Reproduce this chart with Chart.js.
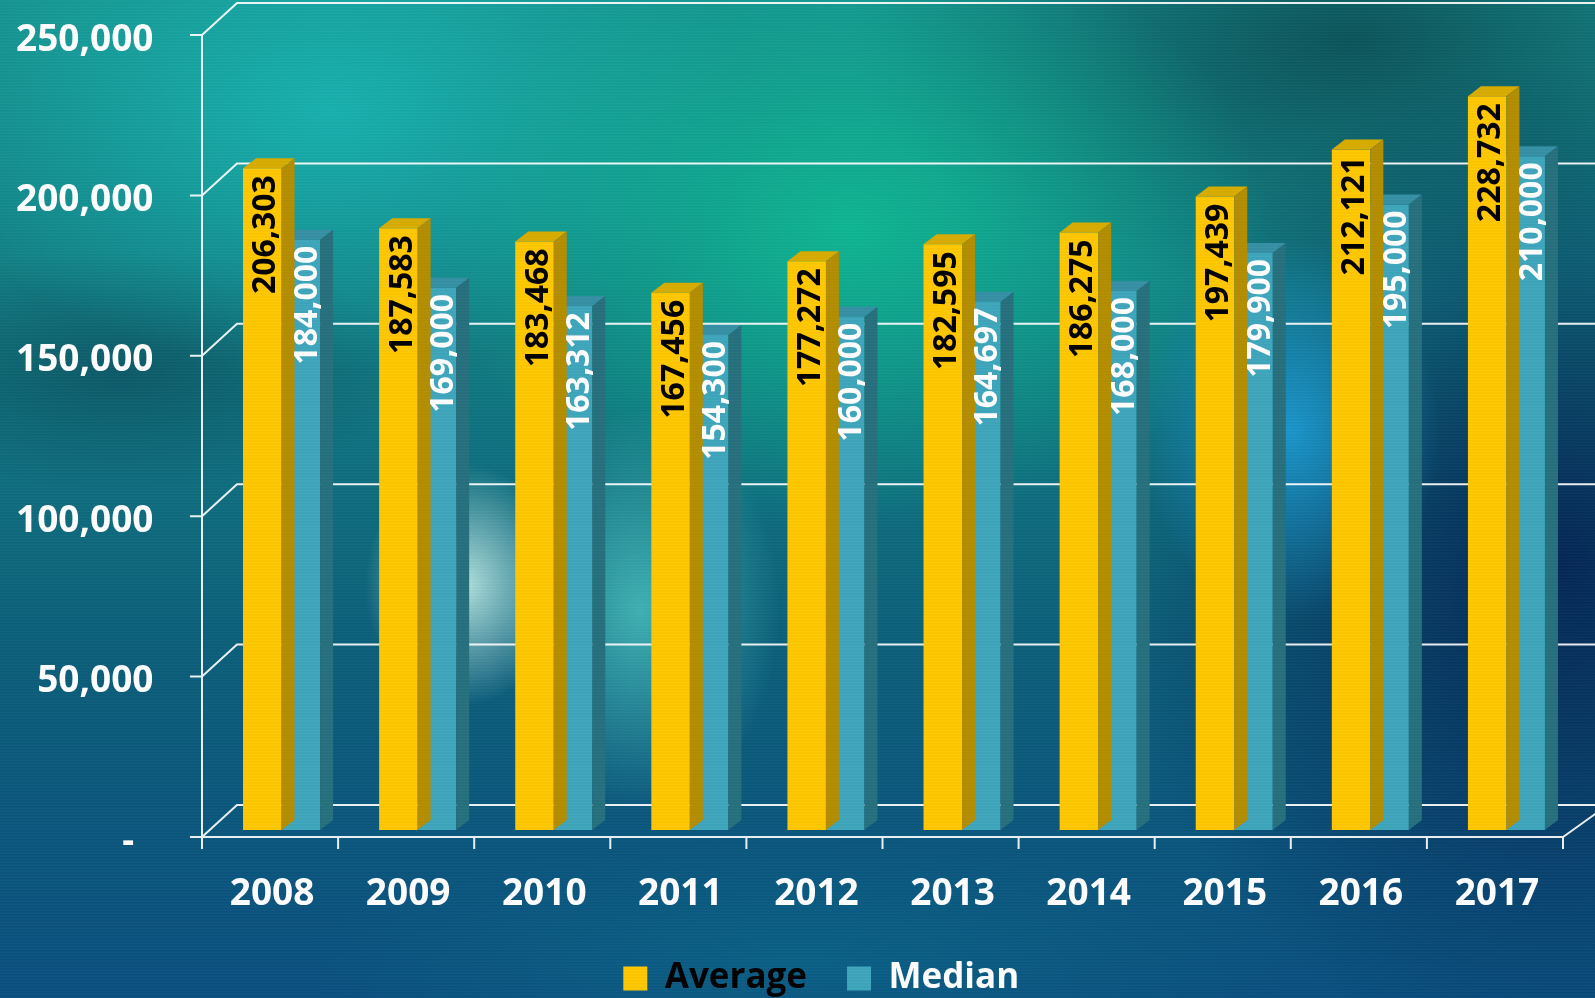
<!DOCTYPE html>
<html>
<head>
<meta charset="utf-8">
<script src="https://cdn.jsdelivr.net/npm/chart.js@4.4.1/dist/chart.umd.min.js"></script>
<style>
html, body { margin: 0; padding: 0; overflow: hidden; }
#wrap {
    width: 1595px; height: 998px; position: relative;
    background:
        radial-gradient(ellipse 100px 120px at 465px 585px, rgba(205,245,238,0.85), rgba(205,245,238,0) 100%),
        radial-gradient(ellipse 140px 200px at 640px 610px, rgba(90,220,210,0.65), rgba(90,220,210,0) 100%),
        radial-gradient(ellipse 150px 190px at 1290px 430px, rgba(30,165,225,0.8), rgba(30,165,225,0) 100%),
        radial-gradient(ellipse 420px 300px at 850px 230px, rgba(14,195,150,0.8), rgba(14,195,150,0) 100%),
        radial-gradient(ellipse 420px 260px at 330px 110px, rgba(25,190,185,0.75), rgba(25,190,185,0) 100%),
        radial-gradient(ellipse 300px 120px at 120px 370px, rgba(10,60,80,0.5), rgba(10,60,80,0) 100%),
        radial-gradient(ellipse 450px 500px at 1560px 560px, rgba(4,28,80,0.85), rgba(4,28,80,0) 100%),
        radial-gradient(ellipse 500px 260px at 1350px 40px, rgba(8,60,70,0.7), rgba(8,60,70,0) 100%),
        radial-gradient(ellipse 500px 120px at 800px 960px, rgba(12,110,140,0.5), rgba(12,110,140,0) 100%),
        linear-gradient(180deg, #16928f 0%, #117a82 35%, #0c5f7a 65%, #0a5080 100%);
}
#wrap::after {
    content: ""; position: absolute; left: 0; top: 0; right: 0; bottom: 0; pointer-events: none;
    background: repeating-linear-gradient(0deg, rgba(255,255,255,0.025) 0px, rgba(255,255,255,0.025) 1px, rgba(0,0,0,0.03) 2px, rgba(0,0,0,0) 3px);
}
canvas { position: absolute; left: 0; top: 0; }
</style>
</head>
<body>
<div id="wrap"><canvas id="priceChart" width="1595" height="998"></canvas></div>
<script>
const years = ['2008', '2009', '2010', '2011', '2012', '2013', '2014', '2015', '2016', '2017'];
const averagePrice = [206303, 187583, 183468, 167456, 177272, 182595, 186275, 197439, 212121, 228732];
const medianPrice = [184000, 169000, 163312, 154300, 160000, 164697, 168000, 179900, 195000, 210000];
const yTicks = [0, 50000, 100000, 150000, 200000, 250000];

const FONT = "'Open Sans', 'DejaVu Sans', sans-serif";

// bar depth (top / side faces)
const BAR_DX = 13, BAR_DY = 10;
// floor/wall offsets relative to the bar plane
const FRONT_DY = 7, BACK_DX = 35, BACK_DY = -18, FRONT_DX = -10;

const faceColors = [
    { front: '#FFC800', top: '#D8AC00', side: '#B48E00' },
    { front: '#3EA6BC', top: '#3590A4', side: '#26707E' }
];
// label nudges inside the bars: [dx, gap below top]
const labelNudge = [[4, 7], [7, 6]];

const fmt = v => v.toLocaleString('en-US');

// 3D-ish walls and grid, drawn behind the bars
const wallGrid = {
    id: 'wallGrid',
    beforeDatasetsDraw(chart) {
        const ctx = chart.ctx;
        const x = chart.scales.x, y = chart.scales.y;
        const frontLeft = chart.chartArea.left + FRONT_DX - 1.5;
        const backLeft = frontLeft + BACK_DX;
        const catW = x.getPixelForValue(1) - x.getPixelForValue(0);
        const frontRight = frontLeft + catW * years.length;
        ctx.save();
        ctx.strokeStyle = 'rgba(255,255,255,0.92)';
        ctx.lineWidth = 2;
        ctx.beginPath();
        yTicks.forEach(v => {
            const yb = y.getPixelForValue(v);
            ctx.moveTo(frontLeft - 12, yb + FRONT_DY);
            ctx.lineTo(frontLeft, yb + FRONT_DY);
            ctx.lineTo(backLeft, yb + BACK_DY - FRONT_DY);
            ctx.lineTo(chart.width + 10, yb + BACK_DY - FRONT_DY);
        });
        const y0 = y.getPixelForValue(0) + FRONT_DY;
        const yTop = y.getPixelForValue(yTicks[yTicks.length - 1]) + FRONT_DY;
        // front vertical axis
        ctx.moveTo(frontLeft, yTop);
        ctx.lineTo(frontLeft, y0 + 12);
        // front floor edge + right diagonal
        ctx.moveTo(frontLeft, y0);
        ctx.lineTo(frontRight, y0);
        ctx.lineTo(frontRight + BACK_DX, y0 + BACK_DY - FRONT_DY);
        // category tick marks
        for (let i = 1; i <= years.length; i++) {
            const tx = frontLeft + catW * i;
            ctx.moveTo(tx, y0);
            ctx.lineTo(tx, y0 + 12);
        }
        ctx.stroke();
        ctx.restore();
    }
};

// top and side faces of the bars, per dataset so the next series covers them
const barFaces = {
    id: 'barFaces',
    afterDatasetDraw(chart, args) {
        const ctx = chart.ctx;
        const c = faceColors[args.index];
        const meta = args.meta;
        ctx.save();
        meta.data.forEach(bar => {
            const p = bar.getProps(['x', 'y', 'base', 'width'], true);
            const l = p.x - p.width / 2, r = p.x + p.width / 2;
            ctx.fillStyle = c.top;
            ctx.beginPath();
            ctx.moveTo(l, p.y);
            ctx.lineTo(l + BAR_DX, p.y - BAR_DY);
            ctx.lineTo(r + BAR_DX, p.y - BAR_DY);
            ctx.lineTo(r, p.y);
            ctx.closePath();
            ctx.fill();
            ctx.fillStyle = c.side;
            ctx.beginPath();
            ctx.moveTo(r, p.y);
            ctx.lineTo(r + BAR_DX, p.y - BAR_DY);
            ctx.lineTo(r + BAR_DX, p.base - BAR_DY);
            ctx.lineTo(r, p.base);
            ctx.closePath();
            ctx.fill();
        });
        ctx.restore();
    }
};

// vertical value labels inside the bars
const barLabels = {
    id: 'barLabels',
    afterDatasetsDraw(chart) {
        const ctx = chart.ctx;
        ctx.save();
        ctx.font = 'bold 32px ' + FONT;
        ctx.textAlign = 'right';
        ctx.textBaseline = 'middle';
        chart.data.datasets.forEach((ds, i) => {
            ctx.fillStyle = i === 0 ? '#000000' : '#FFFFFF';
            const [dx, gap] = labelNudge[i];
            chart.getDatasetMeta(i).data.forEach((bar, j) => {
                const p = bar.getProps(['x', 'y'], true);
                ctx.save();
                ctx.translate(p.x + dx, p.y + gap);
                ctx.rotate(-Math.PI / 2);
                ctx.fillText(fmt(ds.data[j]), 0, 0);
                ctx.restore();
            });
        });
        ctx.restore();
    }
};

// nudge the legend to where the original sits
const legendShift = {
    id: 'legendShift',
    afterLayout(chart) {
        chart.legend.left += 34;
        chart.legend.right += 34;
    }
};

const chart = new Chart(document.getElementById('priceChart'), {
    type: 'bar',
    data: {
        labels: years,
        datasets: [
            { label: 'Average', data: averagePrice, backgroundColor: faceColors[0].front },
            { label: 'Median', data: medianPrice, backgroundColor: faceColors[1].front }
        ]
    },
    options: {
        responsive: false,
        animation: false,
        layout: { padding: { top: 28, right: 20.5, left: 0, bottom: -8 } },
        datasets: { bar: { categoryPercentage: 0.566, barPercentage: 1.0 } },
        scales: {
            x: {
                grid: { display: false, drawTicks: false },
                border: { display: false },
                afterFit(scale) {
                    scale.height = 91;
                    scale.paddingLeft = 0;
                    scale.paddingRight = 0;
                },
                ticks: {
                    color: '#FFFFFF',
                    font: { family: FONT, weight: 'bold', size: 37 },
                    padding: 42,
                    labelOffset: -9.5,
                    autoSkip: false,
                    maxRotation: 0
                }
            },
            y: {
                min: 0,
                max: 250000,
                grid: { display: false, drawTicks: false },
                border: { display: false },
                afterFit(scale) {
                    scale.width = 213.5;
                    scale.paddingTop = 0;
                    scale.paddingBottom = 0;
                },
                ticks: {
                    stepSize: 50000,
                    color: '#FFFFFF',
                    font: { family: FONT, weight: 'bold', size: 37 },
                    padding: 60,
                    labelOffset: 12,
                    callback: v => v === 0 ? '-  ' : fmt(v)
                }
            }
        },
        plugins: {
            tooltip: { enabled: false },
            legend: {
                position: 'bottom',
                labels: {
                    boxWidth: 24,
                    boxHeight: 24,
                    padding: 40,
                    font: { family: FONT, weight: 'bold', size: 35 },
                    generateLabels(ch) {
                        return ch.data.datasets.map((ds, i) => ({
                            text: ds.label,
                            fillStyle: ds.backgroundColor,
                            strokeStyle: ds.backgroundColor,
                            lineWidth: 0,
                            fontColor: i === 0 ? '#000000' : '#FFFFFF',
                            datasetIndex: i
                        }));
                    }
                }
            }
        }
    },
    plugins: [wallGrid, barFaces, barLabels, legendShift]
});
</script>
</body>
</html>
